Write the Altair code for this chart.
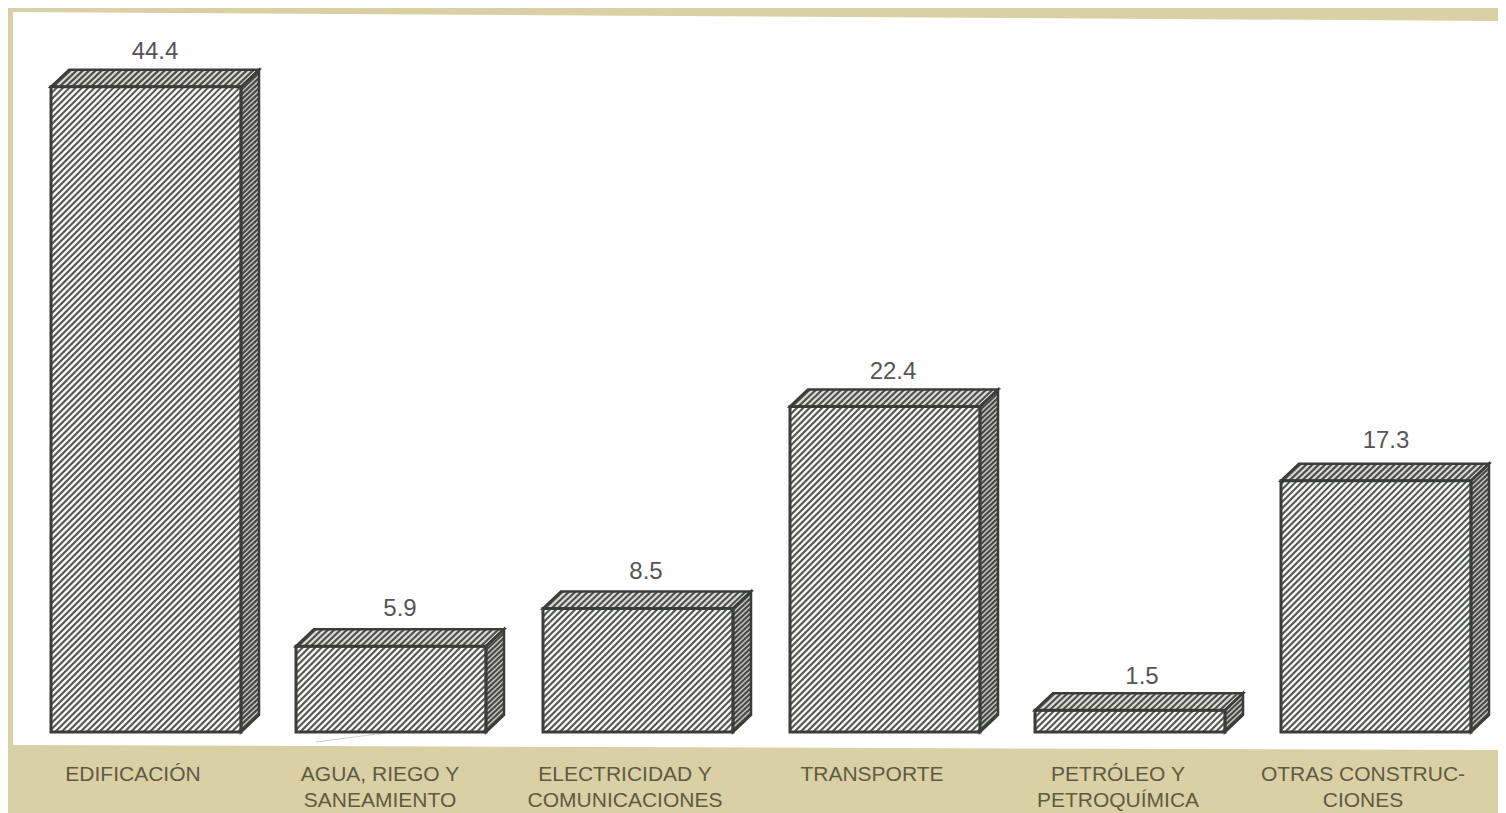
import altair as alt
import pandas as pd

categories = ["EDIFICACIÓN", "AGUA, RIEGO Y SANEAMIENTO", "ELECTRICIDAD Y COMUNICACIONES",
              "TRANSPORTE", "PETRÓLEO Y PETROQUÍMICA", "OTRAS CONSTRUCCIONES"]
values = [44.4, 5.9, 8.5, 22.4, 1.5, 17.3]
value_labels = ["44.4", "5.9", "8.5", "22.4", "1.5", "17.3"]
label_line1 = ["EDIFICACIÓN", "AGUA, RIEGO Y", "ELECTRICIDAD Y", "TRANSPORTE", "PETRÓLEO Y", "OTRAS CONSTRUC-"]
label_line2 = ["", "SANEAMIENTO", "COMUNICACIONES", "", "PETROQUÍMICA", "CIONES"]

W, H = 1490, 805
PX_PER_VALUE = 14.53
BASE_PAGE_Y = 732
bar_left = [51, 296, 543, 790, 1035, 1281]
BAR_W, DX, DY = 190, 18, 17
HATCH = 6.3
label_cx = [133, 380, 625, 872, 1118, 1363]
value_cx = [155, 400, 646, 893, 1142, 1386]
value_label_y = [52, 609, 572, 372, 677, 441]

x_dom = [8, 8 + W]                      # horizontal scale in page pixels
y_lo = -(8 + H - BASE_PAGE_Y) / PX_PER_VALUE
y_hi = (BASE_PAGE_Y - 8) / PX_PER_VALUE
xs = alt.Scale(domain=x_dom, nice=False, zero=False)
ys = alt.Scale(domain=[y_lo, y_hi], nice=False, zero=False)
X = lambda f="x": alt.X(f"{f}:Q", scale=xs, axis=None)
Y = lambda f="y": alt.Y(f"{f}:Q", scale=ys, axis=None)


def v(page_y):
    return (BASE_PAGE_Y - page_y) / PX_PER_VALUE


front, top, side, hatch_f, hatch_t, hatch_s = [], [], [], [], [], []
for i, (l, val) in enumerate(zip(bar_left, values)):
    r = l + BAR_W
    h = val * PX_PER_VALUE
    d_v = DY / PX_PER_VALUE
    front.append(dict(x=l, x2=r, y=0, y2=val))
    top += [dict(b=i, y=val, x=l, x2=r), dict(b=i, y=val + d_v, x=l + DX, x2=r + DX)]
    side += [dict(b=i, x=r, y=val, y2=0), dict(b=i, x=r + DX, y=val + d_v, y2=d_v)]
    # front-face hatch: strokes rising to the right, kept inside the face
    k = -BAR_W + HATCH / 2
    while k < h:
        h0 = max(0, k)
        h1 = min(h, k + BAR_W)
        hatch_f.append(dict(x=l + h0 - k, x2=l + h1 - k, y=h0 / PX_PER_VALUE, y2=h1 / PX_PER_VALUE))
        k += HATCH
    xx = l + 2
    while xx < r:
        hatch_t.append(dict(x=xx, x2=xx + DX, y=val, y2=val + d_v))
        xx += HATCH
    yy = 2
    while yy < h:
        hatch_s.append(dict(x=r, x2=r + DX, y=yy / PX_PER_VALUE, y2=(yy + DY) / PX_PER_VALUE))
        yy += HATCH - 1.3

front = pd.DataFrame(front)
top = pd.DataFrame(top)
side = pd.DataFrame(side)

panel = pd.DataFrame([dict(x=13, y=v(12), y2=v(745)), dict(x=8 + W, y=v(21), y2=v(750))])
panel_c = alt.Chart(panel).mark_area(color="#ffffff", orient="vertical").encode(x=X(), y=Y(), y2="y2:Q")

stray = alt.Chart(pd.DataFrame([dict(x=316, x2=385, y=v(742), y2=v(733))])).mark_rule(
    color="#d0d0c8", strokeWidth=1).encode(x=X(), x2="x2:Q", y=Y(), y2="y2:Q")

front_fill = alt.Chart(front).mark_rect(fill="#f8f8f4").encode(x=X(), x2="x2:Q", y=Y(), y2="y2:Q")
top_fill = alt.Chart(top).mark_area(fill="#dcdcd4", orient="horizontal").encode(
    y=Y(), x=X(), x2="x2:Q", detail="b:N")
side_fill = alt.Chart(side).mark_area(fill="#c4c4bc", orient="vertical").encode(
    x=X(), y=Y(), y2="y2:Q", detail="b:N")


def rules(rows, width, color):
    return alt.Chart(pd.DataFrame(rows)).mark_rule(color=color, strokeWidth=width).encode(
        x=X(), x2="x2:Q", y=Y(), y2="y2:Q")


front_out = alt.Chart(front).mark_rect(fill="transparent", stroke="#3a3d3a", strokeWidth=3).encode(
    x=X(), x2="x2:Q", y=Y(), y2="y2:Q")
top_out = alt.Chart(top).mark_area(fill="transparent", stroke="#3a3d3a", strokeWidth=2.5,
                                   orient="horizontal").encode(y=Y(), x=X(), x2="x2:Q", detail="b:N")
side_out = alt.Chart(side).mark_area(fill="transparent", stroke="#3a3d3a", strokeWidth=2.5,
                                     orient="vertical").encode(x=X(), y=Y(), y2="y2:Q", detail="b:N")

val_df = pd.DataFrame(dict(x=value_cx, y=[v(p) for p in value_label_y], t=value_labels))
val_text = alt.Chart(val_df).mark_text(font="Liberation Sans", fontSize=24, color="#555553", baseline="middle",
                                       align="center").encode(x=X(), y=Y(), text="t:N")

lab_df = pd.DataFrame(dict(x=label_cx, y=[v(775)] * 6, t=label_line1))
lab2_df = pd.DataFrame(dict(x=label_cx, y=[v(801)] * 6, t=label_line2))
lab_text = alt.Chart(lab_df).mark_text(font="Liberation Sans", fontSize=21, color="#5f5b42", baseline="middle",
                                       align="center").encode(x=X(), y=Y(), text="t:N")
lab2_text = alt.Chart(lab2_df[lab2_df.t != ""]).mark_text(font="Liberation Sans", fontSize=21, color="#5f5b42",
                                                          baseline="middle", align="center").encode(
    x=X(), y=Y(), text="t:N")

chart = alt.layer(
    panel_c, stray, front_fill, top_fill, side_fill,
    rules(hatch_f, 2.1, "#555853"), rules(hatch_t, 2.2, "#4e514d"), rules(hatch_s, 2.2, "#454845"),
    side_out, top_out, front_out, val_text, lab_text, lab2_text,
).properties(
    width=W, height=H, padding=0, background="#d9d0a5",
    autosize=alt.AutoSizeParams(type="none"),
).configure_view(stroke=None)

chart.save("out.html", embed_options={"renderer": "svg", "actions": False})
